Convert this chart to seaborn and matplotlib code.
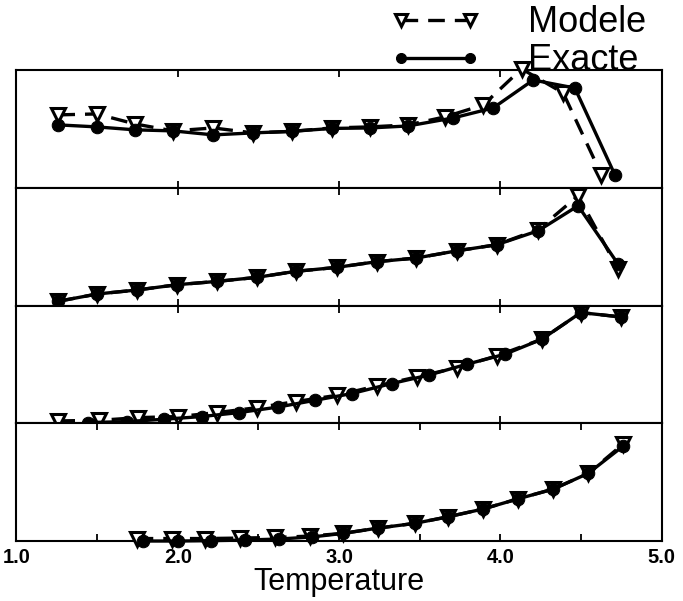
import matplotlib
matplotlib.use("Agg")
import matplotlib.pyplot as plt
import seaborn as sns
import pandas as pd

# ---------------- data ----------------
# Panel 1
p1_mod_T = [1.260, 1.498, 1.735, 1.972, 2.220, 2.468, 2.706, 2.954, 3.191, 3.428, 3.656, 3.893, 4.131, 4.389, 4.626]
p1_mod_v = [0.619, 0.627, 0.542, 0.483, 0.508, 0.466, 0.479, 0.508, 0.517, 0.534, 0.602, 0.703, 1.01, 0.805, 0.110]
p1_exa_T = [1.260, 1.498, 1.735, 1.972, 2.220, 2.468, 2.706, 2.954, 3.191, 3.428, 3.707, 3.955, 4.203, 4.461, 4.709]
p1_exa_v = [0.534, 0.517, 0.492, 0.483, 0.449, 0.466, 0.479, 0.504, 0.508, 0.525, 0.593, 0.678, 0.915, 0.847, 0.110]

# Panel 2
p2_mod_T = [1.260, 1.501, 1.749, 1.997, 2.245, 2.489, 2.730, 2.985, 3.232, 3.476, 3.732, 3.976, 4.234, 4.481, 4.729]
p2_mod_v = [0.036, 0.098, 0.132, 0.177, 0.205, 0.239, 0.290, 0.324, 0.372, 0.403, 0.465, 0.516, 0.645, 0.932, 0.310]
p2_exa_T = [1.260, 1.501, 1.749, 1.997, 2.245, 2.489, 2.730, 2.985, 3.232, 3.476, 3.732, 3.976, 4.234, 4.481, 4.729]
p2_exa_v = [0.036, 0.098, 0.132, 0.177, 0.205, 0.239, 0.290, 0.324, 0.372, 0.403, 0.465, 0.516, 0.635, 0.847, 0.352]

# Panel 3
p3_mod_T = [1.260, 1.512, 1.755, 2.003, 2.245, 2.493, 2.730, 2.989, 3.232, 3.480, 3.732, 3.976, 4.255, 4.498, 4.746]
p3_mod_v = [0.020, 0.025, 0.048, 0.057, 0.091, 0.133, 0.184, 0.238, 0.317, 0.393, 0.473, 0.572, 0.713, 0.940, 0.903]
p3_exa_T = [1.445, 1.683, 1.914, 2.148, 2.381, 2.623, 2.850, 3.077, 3.325, 3.558, 3.790, 4.027, 4.255, 4.498, 4.746]
p3_exa_v = [0.006, 0.014, 0.034, 0.057, 0.091, 0.138, 0.195, 0.252, 0.337, 0.410, 0.501, 0.586, 0.713, 0.940, 0.903]

# Panel 4
p4_mod_T = [1.745, 1.962, 2.169, 2.385, 2.602, 2.819, 3.025, 3.242, 3.470, 3.676, 3.893, 4.106, 4.327, 4.543, 4.760]
p4_mod_v = [0.021, 0.021, 0.021, 0.025, 0.030, 0.042, 0.065, 0.110, 0.150, 0.206, 0.272, 0.357, 0.441, 0.574, 0.823]
p4_exa_T = [1.786, 2.003, 2.205, 2.415, 2.625, 2.830, 3.025, 3.242, 3.470, 3.676, 3.893, 4.106, 4.327, 4.543, 4.760]
p4_exa_v = [0.000, 0.000, 0.003, 0.008, 0.017, 0.034, 0.065, 0.110, 0.150, 0.206, 0.272, 0.357, 0.441, 0.574, 0.806]

series_labels = ["Modele", "Exacte"]
x_label = "Temperature"
x_tick_values = [1.0, 2.0, 3.0, 4.0, 5.0]
x_tick_labels = ["1.0", "2.0", "3.0", "4.0", "5.0"]

panels = [
    (p1_mod_T, p1_mod_v, p1_exa_T, p1_exa_v),
    (p2_mod_T, p2_mod_v, p2_exa_T, p2_exa_v),
    (p3_mod_T, p3_mod_v, p3_exa_T, p3_exa_v),
    (p4_mod_T, p4_mod_v, p4_exa_T, p4_exa_v),
]

# ---------------- figure ----------------
sns.set_theme(style="white")
plt.rcParams["font.family"] = ["Liberation Sans", "DejaVu Sans"]
plt.rcParams["text.color"] = "black"
plt.rcParams["axes.labelcolor"] = "black"
plt.rcParams["xtick.color"] = "black"
plt.rcParams["xtick.labelcolor"] = "black"

fig, axes = plt.subplots(4, 1, figsize=(6.83, 6.01), dpi=100, sharex=True)
fig.subplots_adjust(left=0.024, right=0.969, top=0.8835, bottom=0.0998, hspace=0)

for ax, (mT, mv, eT, ev) in zip(axes, panels):
    dm = pd.DataFrame({"T": mT, "v": mv})
    de = pd.DataFrame({"T": eT, "v": ev})
    sns.lineplot(data=dm, x="T", y="v", ax=ax, color="black", linestyle=(0, (5, 3)),
                 linewidth=2.4, marker="v", markersize=10, markerfacecolor="white",
                 markeredgecolor="black", markeredgewidth=2.2, clip_on=False,
                 label=series_labels[0], zorder=3)
    sns.lineplot(data=de, x="T", y="v", ax=ax, color="black", linestyle="-",
                 linewidth=2.4, marker="o", markersize=9, markerfacecolor="black",
                 markeredgecolor="black", clip_on=False, label=series_labels[1], zorder=4)
    ax.set_xlim(1.0, 5.0)
    ax.set_ylim(0, 1)
    ax.set_yticks([])
    ax.set_ylabel("")
    ax.set_xlabel("")
    ax.set_xticks([1.5, 2.0, 2.5, 3.0, 3.5, 4.0, 4.5], minor=False)
    ax.tick_params(axis="x", direction="in", top=True, bottom=True, length=5,
                   width=1.3, color="black", labelbottom=False)
    for s in ax.spines.values():
        s.set_color("black")
        s.set_linewidth(1.5)
    leg = ax.get_legend()
    if leg is not None:
        leg.remove()

bottom = axes[-1]
bottom.set_xticks(x_tick_values)
bottom.set_xticklabels(x_tick_labels, fontsize=14.5, fontweight="bold", color="black")
bottom.set_xticks([1.5, 2.5, 3.5, 4.5], minor=True)
bottom.tick_params(axis="x", which="both", direction="in", top=True, bottom=True,
                   length=5, width=1.3, labelbottom=True, pad=5)
bottom.set_xlabel(x_label, fontsize=22, labelpad=0, color="black")

handles = axes[0].lines[:2]
leg = fig.legend(handles, series_labels, loc="upper left", bbox_to_anchor=(0.54, 1.027),
                 frameon=False, fontsize=26, handlelength=2.5, handletextpad=1.3,
                 labelspacing=0.08, borderpad=0.1, numpoints=2, markerscale=0.8)
for t in leg.get_texts():
    t.set_color("black")

fig.savefig("out.png", dpi=100)
